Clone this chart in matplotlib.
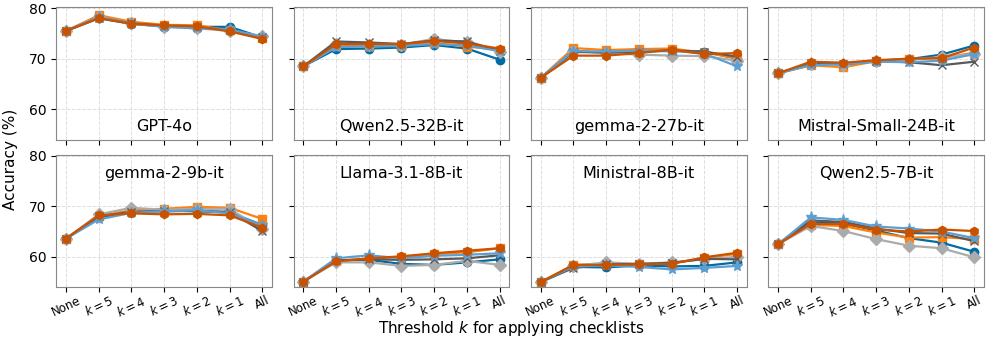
import numpy as np
import matplotlib
matplotlib.use("Agg")
import matplotlib.pyplot as plt

# x categories
thresholds = ["None", "$k=5$", "$k=4$", "$k=3$", "$k=2$", "$k=1$", "All"]
models = ["GPT-4o", "Qwen2.5-32B-it", "gemma-2-27b-it", "Mistral-Small-24B-it",
          "gemma-2-9b-it", "Llama-3.1-8B-it", "Ministral-8B-it", "Qwen2.5-7B-it"]

# accuracy per model, one list per series (6 series)
blue = [
    [75.5, 78.0, 76.9, 76.4, 76.3, 76.3, 74.2],
    [68.5, 71.9, 72.0, 72.2, 72.7, 72.0, 69.8],
    [66.2, 71.3, 71.3, 71.5, 71.5, 71.4, 70.0],
    [67.1, 69.0, 69.0, 69.6, 69.9, 70.8, 72.6],
    [63.6, 67.8, 68.8, 69.2, 69.0, 68.8, 66.3],
    [55.1, 59.3, 59.4, 58.6, 58.4, 58.9, 59.5],
    [55.0, 58.0, 57.9, 58.3, 58.1, 58.2, 58.9],
    [62.5, 66.8, 66.6, 65.2, 63.7, 62.8, 61.0],
]
orange = [
    [75.5, 78.6, 77.3, 76.7, 76.6, 75.6, 74.0],
    [68.5, 72.5, 72.6, 72.6, 73.1, 72.4, 71.8],
    [66.2, 72.1, 71.7, 71.9, 72.0, 71.2, 70.1],
    [67.1, 68.7, 68.3, 69.5, 69.9, 70.1, 71.2],
    [63.6, 68.1, 69.2, 69.5, 69.9, 69.7, 67.5],
    [55.1, 59.2, 59.6, 60.0, 60.5, 60.9, 61.7],
    [55.0, 58.4, 58.6, 58.5, 58.7, 59.7, 60.6],
    [62.5, 66.3, 66.1, 64.8, 63.8, 63.9, 63.5],
]
gray = [
    [75.5, 78.3, 77.0, 76.3, 76.0, 75.5, 74.5],
    [68.5, 73.0, 72.8, 72.8, 73.9, 73.2, 71.4],
    [66.2, 71.6, 71.1, 70.8, 70.6, 70.5, 69.6],
    [67.1, 68.9, 68.8, 69.6, 69.8, 70.3, 70.9],
    [63.6, 68.4, 69.7, 69.3, 69.5, 69.5, 65.5],
    [55.1, 58.9, 58.9, 58.2, 58.4, 59.2, 58.4],
    [55.0, 58.2, 58.9, 58.6, 58.9, 59.5, 60.0],
    [62.5, 66.1, 65.1, 63.5, 62.2, 61.7, 59.9],
]
dkgray = [
    [75.5, 78.1, 77.0, 76.5, 76.2, 75.7, 74.2],
    [68.5, 73.4, 73.2, 72.9, 73.6, 73.4, 71.6],
    [66.2, 71.4, 71.2, 71.4, 71.6, 71.4, 70.4],
    [67.1, 69.1, 68.9, 69.5, 69.3, 68.7, 69.4],
    [63.6, 68.0, 68.9, 69.0, 69.1, 68.9, 65.1],
    [55.1, 59.3, 59.5, 59.4, 59.5, 59.7, 60.3],
    [55.0, 57.8, 58.5, 58.6, 58.8, 59.6, 59.5],
    [62.5, 67.2, 66.9, 65.6, 64.7, 64.6, 63.1],
]
ltblue = [
    [75.5, 78.2, 76.9, 76.3, 76.0, 75.8, 74.3],
    [68.5, 72.3, 72.4, 72.5, 72.9, 72.6, 71.5],
    [66.2, 71.5, 71.4, 71.6, 71.6, 71.0, 68.5],
    [67.1, 68.7, 68.9, 69.4, 69.3, 69.6, 70.9],
    [63.6, 67.4, 68.7, 69.0, 69.2, 68.6, 66.3],
    [55.1, 59.7, 60.3, 59.7, 60.2, 60.4, 60.7],
    [55.0, 58.1, 58.3, 58.0, 57.5, 57.8, 58.2],
    [62.5, 67.8, 67.3, 66.0, 65.6, 65.0, 63.7],
]
dkorange = [
    [75.5, 78.0, 76.9, 76.6, 76.4, 75.4, 73.9],
    [68.5, 72.9, 72.9, 72.9, 73.5, 73.0, 72.0],
    [66.2, 70.6, 70.6, 71.1, 71.8, 70.9, 71.1],
    [67.1, 69.4, 69.2, 69.7, 70.0, 70.1, 72.2],
    [63.6, 68.2, 68.6, 68.4, 68.5, 68.2, 65.8],
    [55.1, 59.1, 59.7, 60.1, 60.7, 61.2, 61.7],
    [55.0, 58.4, 58.4, 58.5, 58.6, 59.9, 60.8],
    [62.5, 66.5, 66.5, 65.4, 65.0, 65.4, 65.1],
]

series = [
    (blue, "#006BA4", "o"),
    (orange, "#FF800E", "s"),
    (gray, "#ABABAB", "D"),
    (dkgray, "#595959", "x"),
    (ltblue, "#5F9ED1", "*"),
    (dkorange, "#C85200", "h"),
]

fig, axes = plt.subplots(2, 4, figsize=(9.87, 3.39), dpi=100, sharex=True, sharey=True)
fig.subplots_adjust(left=0.057, right=0.997, top=0.979, bottom=0.153,
                    wspace=0.1, hspace=0.115)

x = np.arange(len(thresholds))
for i, ax in enumerate(axes.flat):
    for vals, col, mk in series:
        ms = 8 if mk == "*" else 6
        ax.plot(x, vals[i], color=col, marker=mk, markersize=ms, linewidth=1.6)
    ax.set_ylim(54, 80.2)
    ax.set_yticks([60, 70, 80])
    ax.set_xticks(x)
    ax.set_xticklabels(thresholds, rotation=25, fontsize=8.5)
    ax.tick_params(axis="y", labelsize=10)
    ax.tick_params(axis="x", pad=1.5)
    ax.set_xlim(-0.3, 6.3)
    ax.grid(True, linestyle="--", color="#dddddd", linewidth=0.7)
    for s in ax.spines.values():
        s.set_color("#888888")
    ypos = 0.1 if i < 4 else 0.86
    ax.text(0.5, ypos, models[i], transform=ax.transAxes, ha="center",
            va="center", fontsize=11.5)

fig.text(0.518, 0.004, "Threshold $k$ for applying checklists", ha="center",
         va="bottom", fontsize=11)
fig.text(0.003, 0.53, "Accuracy (%)", rotation=90, ha="left", va="center",
         fontsize=11)

fig.savefig("out.png", dpi=100)
